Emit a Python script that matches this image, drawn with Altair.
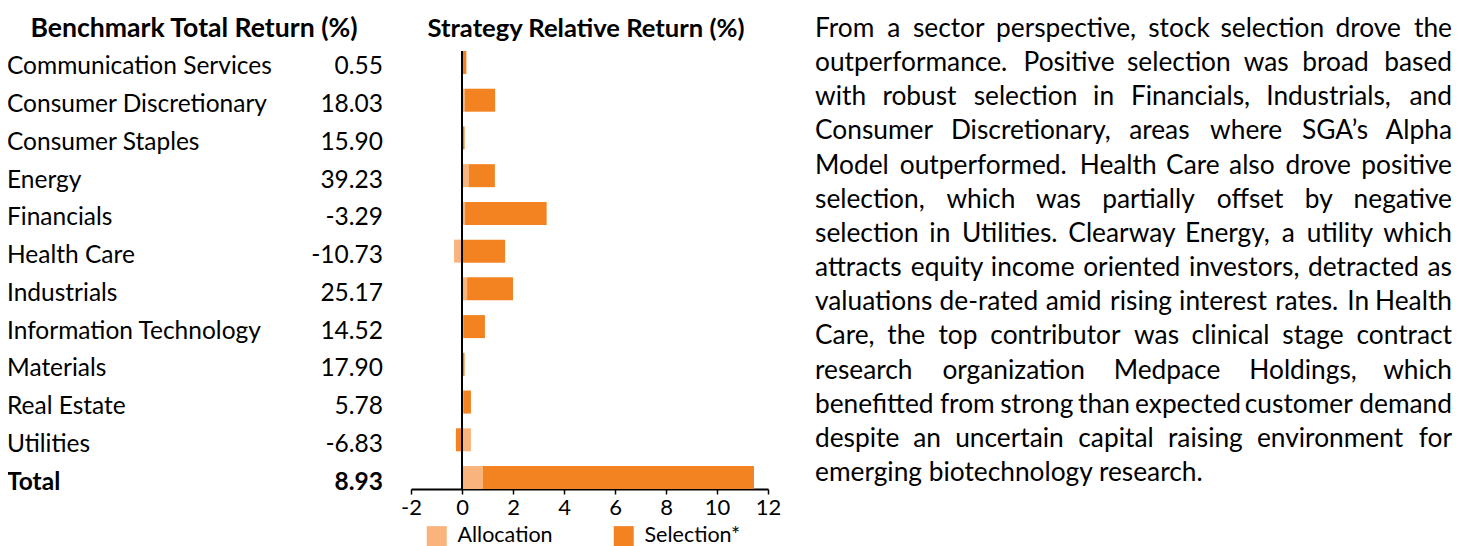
import altair as alt
import pandas as pd

# ---------------- data ----------------
sectors = ["Communication Services", "Consumer Discretionary", "Consumer Staples", "Energy",
           "Financials", "Health Care", "Industrials", "Information Technology", "Materials",
           "Real Estate", "Utilities", "Total"]
benchmark = [0.55, 18.03, 15.90, 39.23, -3.29, -10.73, 25.17, 14.52, 17.90, 5.78, -6.83, 8.93]
allocation = [0.0, 0.10, 0.0, 0.27, 0.12, -0.31, 0.20, 0.05, 0.0, 0.05, 0.35, 0.82]
selection = [0.17, 1.20, 0.10, 1.02, 3.20, 1.69, 1.80, 0.85, 0.10, 0.30, -0.24, 10.63]
series_names = ["Allocation", "Selection*"]
series_colors = ["#F8B47C", "#F38321"]
x_ticks = [-2, 0, 2, 4, 6, 8, 10, 12]

title_left = "Benchmark Total Return (%)"
title_mid = "Strategy Relative Return (%)"

paragraph = [
    "From a sector perspective, stock selection drove the",
    "outperformance. Positive selection was broad based",
    "with robust selection in Financials, Industrials, and",
    "Consumer Discretionary, areas where SGA\u2019s Alpha",
    "Model outperformed. Health Care also drove positive",
    "selection, which was partially offset by negative",
    "selection in Utilities. Clearway Energy, a utility which",
    "attracts equity income oriented investors, detracted as",
    "valuations de-rated amid rising interest rates. In Health",
    "Care, the top contributor was clinical stage contract",
    "research organization Medpace Holdings, which",
    "benefitted from strong than expected customer demand",
    "despite an uncertain capital raising environment for",
    "emerging biotechnology research.",
]

FONT = "Lato"
TBL_SIZE = 24.5
PARA_SIZE = 26.3

# ---------------- tables ----------------
rows = []
for i, s in enumerate(sectors):
    rows.append({"sector": s, "series": series_names[0], "value": allocation[i], "ord": 0})
    rows.append({"sector": s, "series": series_names[1], "value": selection[i], "ord": 1})
bars_df = pd.DataFrame(rows)

tbl_df = pd.DataFrame({"sector": sectors,
                       "bench": [f"{b:.2f}" for b in benchmark]})
tbl_norm = tbl_df[tbl_df["sector"] != "Total"]
tbl_bold = tbl_df[tbl_df["sector"] == "Total"]

# approximate glyph widths (em) used to spread words for justified lines
W = {c: v for c, v in zip("abcdefghijklmnopqrstuvwxyz",
     [.479, .525, .423, .525, .498, .305, .471, .525, .229, .239, .455, .229, .799, .525,
      .527, .525, .525, .349, .391, .335, .525, .452, .715, .433, .453, .395])}
W.update({c: v for c, v in zip("ABCDEFGHIJKLMNOPQRSTUVWXYZ",
     [.579, .544, .533, .615, .488, .459, .631, .623, .252, .319, .520, .420, .855, .646,
      .662, .517, .673, .543, .459, .487, .642, .567, .890, .519, .487, .468])})
W.update({",": .25, ".": .252, "-": .306, "\u2019": .25})
K = 1.07


def est(word):
    return sum(W.get(c, .5) for c in word) * PARA_SIZE * K


L_EDGE, R_EDGE = 807, 1444
LINE0, LINE_STEP = 21, 34.15
wl, wr = [], []
for li, line in enumerate(paragraph):
    y = LINE0 + li * LINE_STEP
    words = line.split(" ")
    if li == len(paragraph) - 1:
        wl.append({"w": line, "px": L_EDGE, "py": y})
        continue
    widths = [est(w) for w in words]
    gap = (R_EDGE - L_EDGE - sum(widths)) / (len(words) - 1)
    x = L_EDGE
    for wi, w in enumerate(words):
        if wi == len(words) - 1:
            wr.append({"w": w, "px": R_EDGE, "py": y})
        else:
            wl.append({"w": w, "px": x, "py": y})
        x += widths[wi] + gap
wl_df = pd.DataFrame(wl)
wr_df = pd.DataFrame(wr)

# ---------------- scales ----------------
yscale = alt.Scale(domain=sectors, range=[35.6, 488.4], paddingInner=0.39, paddingOuter=0.195)
xscale = alt.Scale(domain=[-2, 12], range=[403, 760], nice=False, zero=False)

bars = alt.Chart(bars_df).mark_bar(size=23).encode(
    y=alt.Y("sector:N", scale=yscale, axis=None, sort=sectors),
    x=alt.X("value:Q", scale=xscale, stack="zero",
            axis=alt.Axis(values=x_ticks, labelExpr="'' + datum.value", title=None, grid=False,
                          labelFontSize=22, labelFont=FONT, labelColor="black",
                          labelFlush=False, labelOverlap=False, labelPadding=3,
                          domainColor="black", domainWidth=2, tickColor="black",
                          tickSize=5, tickWidth=1.5)),
    color=alt.Color("series:N", scale=alt.Scale(domain=series_names, range=series_colors),
                    legend=alt.Legend(orient="none", legendX=418, legendY=517,
                                      direction="horizontal", title=None,
                                      symbolType="square", symbolSize=400,
                                      symbolStrokeWidth=0, labelFontSize=21.5,
                                      labelFont=FONT, labelColor="black",
                                      columnPadding=60, labelOffset=10)),
    order=alt.Order("ord:Q"),
)

zero_rule = alt.Chart(pd.DataFrame({"z": [0]})).mark_rule(color="black", strokeWidth=2).encode(
    x=alt.X("z:Q", scale=xscale, axis=None),
    y=alt.value(43), y2=alt.value(481),
)


def table_layer(df, field, align, xpos, weight):
    return alt.Chart(df).mark_text(align=align, baseline="middle", dy=5, font=FONT,
                                   fontSize=TBL_SIZE, fontWeight=weight,
                                   color="black").encode(
        y=alt.Y("sector:N", scale=yscale, axis=None, sort=sectors),
        x=alt.value(xpos),
        text=f"{field}:N",
    )


labels_n = table_layer(tbl_norm, "sector", "left", -1, "normal")
labels_b = table_layer(tbl_bold, "sector", "left", -1, "bold")
values_n = table_layer(tbl_norm, "bench", "right", 375, "normal")
values_b = table_layer(tbl_bold, "bench", "right", 375, "bold")

titles_df = pd.DataFrame({"t": [title_left, title_mid], "px": [186, 578], "py": [21, 21],
                          "fs": [26.6, 25.6]})
titles = alt.Chart(titles_df).mark_text(align="center", baseline="middle", font=FONT,
                                        fontWeight="bold", color="black").encode(
    x=alt.X("px:Q", scale=None, axis=None),
    y=alt.Y("py:Q", scale=None, axis=None),
    size=alt.Size("fs:Q", scale=None, legend=None),
    text="t:N",
)

para_l = alt.Chart(wl_df).mark_text(align="left", baseline="middle", font=FONT,
                                    fontSize=PARA_SIZE, color="black").encode(
    x=alt.X("px:Q", scale=None, axis=None),
    y=alt.Y("py:Q", scale=None, axis=None),
    text="w:N",
)
para_r = alt.Chart(wr_df).mark_text(align="right", baseline="middle", font=FONT,
                                    fontSize=PARA_SIZE, color="black").encode(
    x=alt.X("px:Q", scale=None, axis=None),
    y=alt.Y("py:Q", scale=None, axis=None),
    text="w:N",
)

chart = alt.layer(bars, zero_rule, labels_n, labels_b, values_n, values_b, titles,
                  para_l, para_r).resolve_scale(
    x="independent", y="independent", size="independent"
).properties(
    width=1452, height=481,
    autosize=alt.AutoSizeParams(type="none"),
    padding={"left": 0, "top": 0, "right": 0, "bottom": 57},
).configure(font=FONT).configure_view(strokeWidth=0, stroke=None)

chart.save("out.html", embed_options={"renderer": "svg", "actions": False})
